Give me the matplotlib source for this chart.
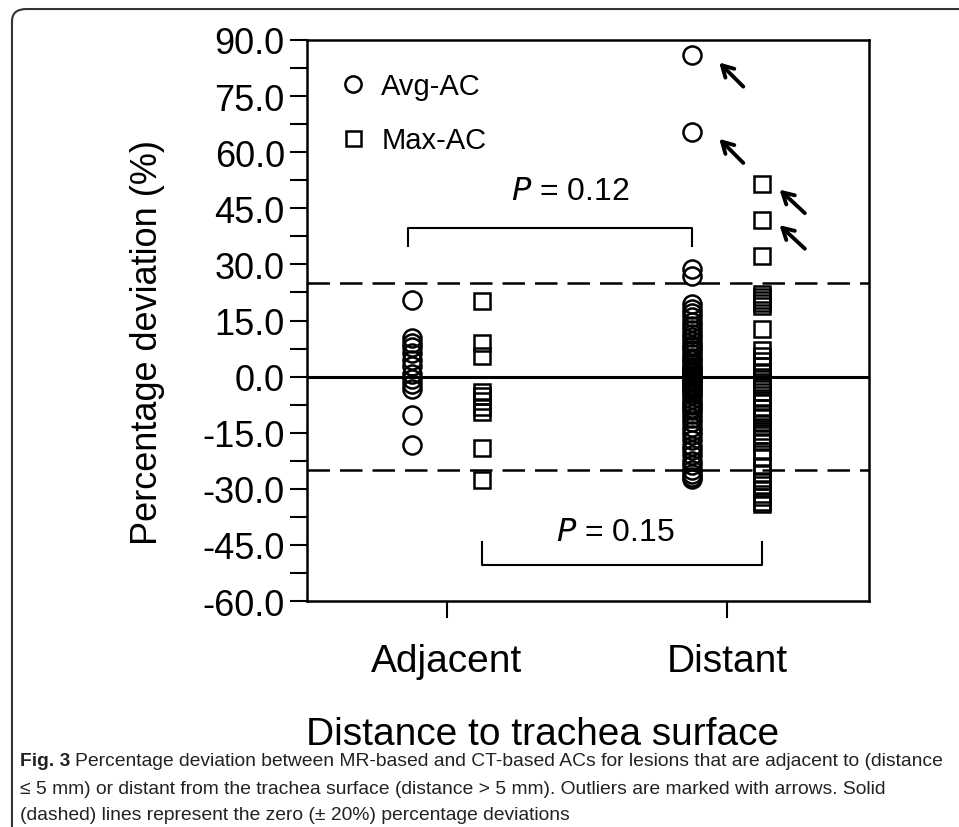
import numpy as np
import matplotlib
matplotlib.use('Agg')
import matplotlib.pyplot as plt
from matplotlib.patches import FancyBboxPatch

plt.rcParams['font.family'] = ['Liberation Sans', 'DejaVu Sans']

# values (percentage deviation, %)
groups = ['Adjacent', 'Distant']
adj_avg = [20.4, 10.2, 9.0, 7.8, 6.2, 4.5, 2.8, 0.8, -0.6, -2.0, -3.2, -10.3, -18.4]
adj_max = [20.3, 9.0, 5.6, -4.0, -5.2, -6.6, -8.0, -9.4, -19.2, -27.6]
dist_avg = [85.9, 65.5, 28.9, 26.8,
            19.5, 18.0, 17.0, 16.0, 14.5, 13.5, 12.5, 11.5, 10.5, 9.5, 8.5, 8.0,
            7.0, 6.0, 5.0, 4.5, 3.5, 2.5, 2.0, 1.5, 1.0, 0.5, 0.0, -0.5, -1.0,
            -1.5, -2.0, -2.5, -3.0, -3.5, -4.5, -5.0, -6.0, -7.0, -7.5, -8.5,
            -9.0, -10.0, -11.0, -12.0, -13.5, -14.5, -15.5, -17.0, -18.5, -19.5,
            -21.0, -22.5, -23.5, -25.0, -26.0, -26.8, -27.5]
dist_max = [51.4, 41.9, 32.3, 22.0, 21.2, 20.4, 19.6, 18.8, 12.6, 7.0, 5.5,
            4.2, 2.9, 1.1, -0.7, -2.0, -2.9, -4.2, -5.6, -6.9, -8.3, -9.6,
            -10.9, -12.3, -13.5, -14.5, -15.5, -16.5, -17.5, -19.8, -21.6,
            -23.8, -26.0, -27.8, -29.0, -30.0, -31.3, -32.2, -33.5, -34.0]
avg_outliers = [85.9, 65.5]
max_outliers = [51.4, 41.9]
p_top = 'P = 0.12'
p_bottom = 'P = 0.15'
limit = 25

fig = plt.figure(figsize=(9.59, 8.28), dpi=100)
ax = fig.add_axes([0.3201, 0.2729, 0.5861, 0.6776])

off = 0.125
xa, xd = 1, 2
mk = dict(ls='none', mfc='none', mec='black', mew=1.8)
ax.plot([xa - off] * len(adj_avg), adj_avg, marker='o', ms=13, label='Avg-AC', **mk)
ax.plot([xa + off] * len(adj_max), adj_max, marker='s', ms=12, label='Max-AC', **mk)
ax.plot([xd - off] * len(dist_avg), dist_avg, marker='o', ms=13, **mk)
ax.plot([xd + off] * len(dist_max), dist_max, marker='s', ms=12, **mk)

ax.axhline(0, color='black', lw=2.2)
ax.axhline(limit, color='black', lw=1.8, dashes=(9, 4))
ax.axhline(-limit, color='black', lw=1.8, dashes=(9, 4))

# outlier arrows
arrow = dict(arrowstyle='->,head_length=0.8,head_width=0.45', lw=2.8, color='black')
for v in avg_outliers:
    ax.annotate('', xy=(xd - off + 0.09, v - 1.4), xytext=(xd - off + 0.19, v - 8.9), arrowprops=arrow)
for v in max_outliers:
    ax.annotate('', xy=(xd + off + 0.055, v - 0.9), xytext=(xd + off + 0.16, v - 8.2), arrowprops=arrow)

# significance brackets
ax.plot([0.861, 0.861, xd - off, xd - off], [34.9, 39.7, 39.7, 34.9], color='black', lw=1.5)
ax.text(1.44, 49.5, p_top.replace('P', '$\\it{P}$'), ha='center', va='center', fontsize=23)
ax.plot([xa + off, xa + off, xd + off, xd + off], [-44.2, -50.4, -50.4, -44.2], color='black', lw=1.5)
ax.text(1.6, -41.6, p_bottom.replace('P', '$\\it{P}$'), ha='center', va='center', fontsize=23)

ax.set_xlim(0.5, 2.507)
ax.set_ylim(-60, 90)
ax.set_xticks([xa, xd])
ax.set_xticklabels(groups, fontsize=28)
ax.set_yticks(np.arange(-60, 91, 15))
ax.set_yticklabels(['%.1f' % t for t in np.arange(-60, 91, 15)], fontsize=26)
ax.set_yticks(np.arange(-52.5, 90, 15), minor=True)
ax.tick_params(axis='y', which='both', direction='out', length=12, width=1.5, pad=4)
ax.tick_params(axis='x', direction='out', length=12, width=1.5, pad=18)
for s in ax.spines.values():
    s.set_linewidth(1.8)

ax.set_ylabel('Percentage deviation (%)', fontsize=26)
ax.yaxis.set_label_coords(-0.252, 0.463)
ax.set_xlabel('Distance to trachea surface', fontsize=28)
ax.xaxis.set_label_coords(0.42, -0.205)

ax.legend(loc='upper left', bbox_to_anchor=(0.01, 0.99), frameon=False, fontsize=21,
          markerscale=0.9, handlelength=1.0, handletextpad=0.45, labelspacing=0.9)

# figure frame and caption
frame = FancyBboxPatch((0.0125, -0.05), 1.05, 1.0379, boxstyle='round,pad=0,rounding_size=0.015',
                       transform=fig.transFigure, fill=False, ec='#333333', lw=1.5)
fig.patches.append(frame)

cap_font = ['Liberation Sans', 'DejaVu Sans']
cap_size = 13.9
t1 = fig.text(0.021, 1 - 762 / 828, 'Fig. 3', fontsize=cap_size, fontweight='bold',
              family=cap_font, va='center', color='#222222')
r = fig.canvas.get_renderer()
bb = t1.get_window_extent(renderer=r)
fig.text((bb.x1 + 4) / fig.bbox.width, 1 - 762 / 828,
         'Percentage deviation between MR-based and CT-based ACs for lesions that are adjacent to (distance',
         fontsize=cap_size, family=cap_font, va='center', color='#222222')
fig.text(0.021, 1 - 790 / 828,
         '\u2264 5 mm) or distant from the trachea surface (distance > 5 mm). Outliers are marked with arrows. Solid',
         fontsize=cap_size, family=cap_font, va='center', color='#222222')
fig.text(0.021, 1 - 816 / 828, '(dashed) lines represent the zero (\u00b1 20%) percentage deviations',
         fontsize=cap_size, family=cap_font, va='center', color='#222222')

fig.savefig('out.png', dpi=100)
